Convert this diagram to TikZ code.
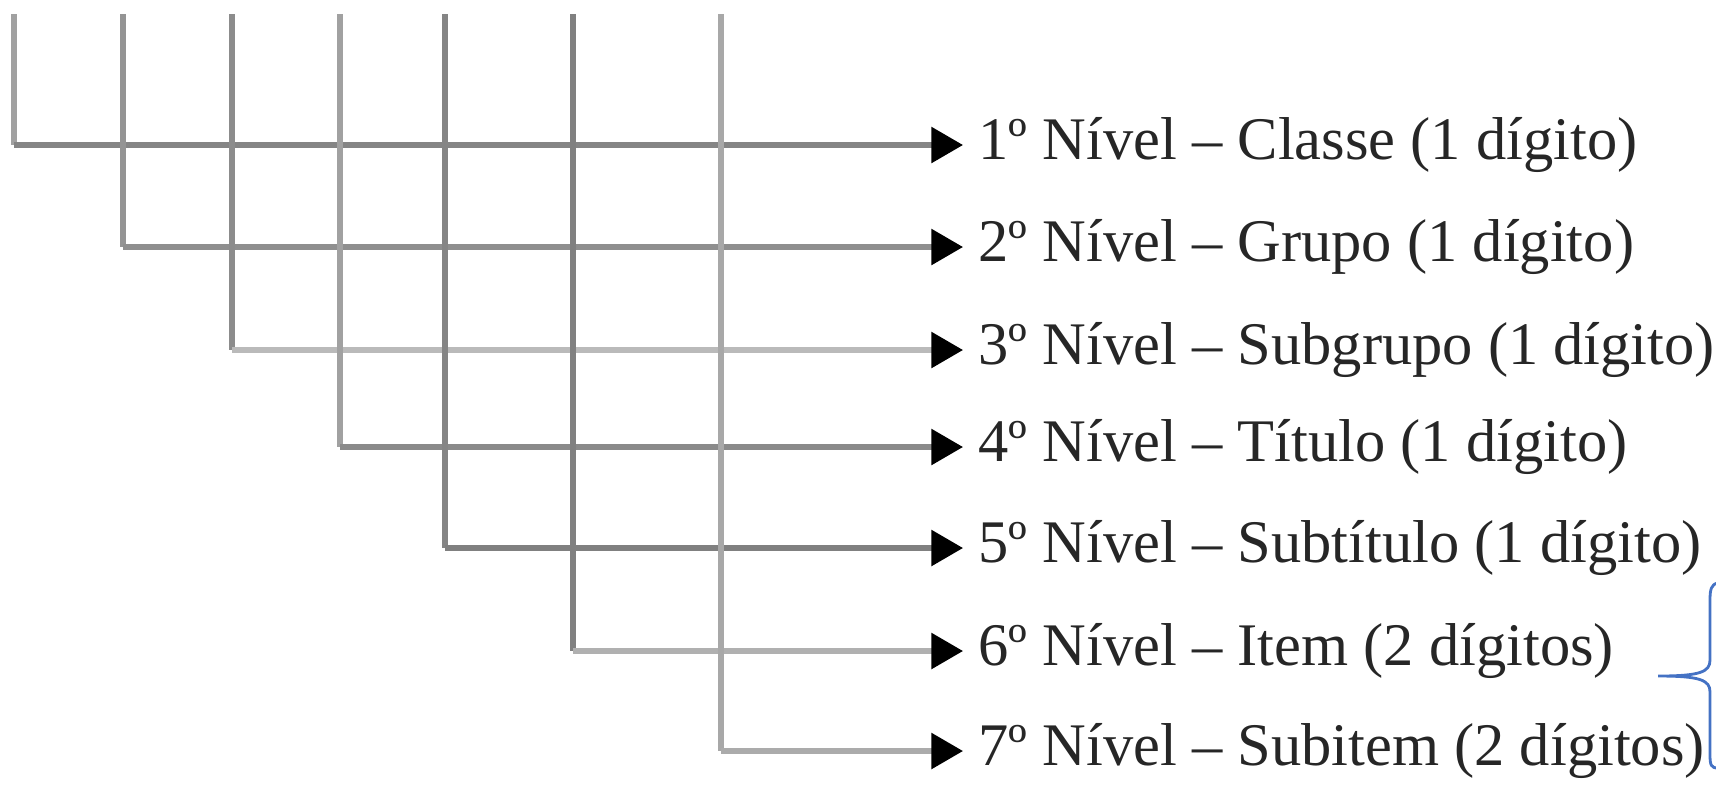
\documentclass[tikz,border=0pt]{standalone}
\usepackage{fontspec}
\setmainfont{Liberation Serif}
\usetikzlibrary{arrows.meta}
\definecolor{bracoazul}{HTML}{4472C4}
\tikzset{
  nivel/.style={anchor=west,inner xsep=0.13cm,inner ysep=0pt,
    font=\fontsize{17.2}{20}\selectfont,text=black!85},
  seta/.style={-{Triangle[length=9pt,width=10pt,color=black]}},
}

\begin{document}
\begin{tikzpicture}[x=0.01cm,y=-0.01cm,line width=1.5pt]
\useasboundingbox (0,0) rectangle (1716,787);
% textos dos niveis
\node[nivel] (n1) at (963,145) {1º Nível – Classe (1 dígito)};
\node[nivel] (n2) at (963,247) {2º Nível – Grupo (1 dígito)};
\node[nivel] (n3) at (963,350) {3º Nível – Subgrupo (1 dígito)};
\node[nivel] (n4) at (963,447) {4º Nível – Título (1 dígito)};
\node[nivel] (n5) at (963,548) {5º Nível – Subtítulo (1 dígito)};
\node[nivel] (n6) at (963,651) {6º Nível – Item (2 dígitos)};
\node[nivel] (n7) at (963,751) {7º Nível – Subitem (2 dígitos)};
% linhas
\foreach \i/\x/\cv/\ch in {1/14/37/48,2/123/42/44,3/232/45/27,4/340/37/46,
    5/445/48/50,6/573/50/31,7/721/34/33}{
  \coordinate (t\i) at (\x,14);
  \coordinate (c\i) at (t\i |- n\i.west);
  \draw[black!\cv] (t\i) -- (c\i);
  \draw[black!\ch,seta] (c\i) -- (n\i.west);
}
% chave
\draw[bracoazul,line width=0.8pt] (1718,583) .. controls (1711,584) and (1710,590) .. (1710,600)
  -- (1710,660) .. controls (1710,672) and (1700,676) .. (1658,676)
  .. controls (1700,676) and (1710,680) .. (1710,692)
  -- (1710,755) .. controls (1710,765) and (1711,768) .. (1718,768);
\end{tikzpicture}
\end{document}
